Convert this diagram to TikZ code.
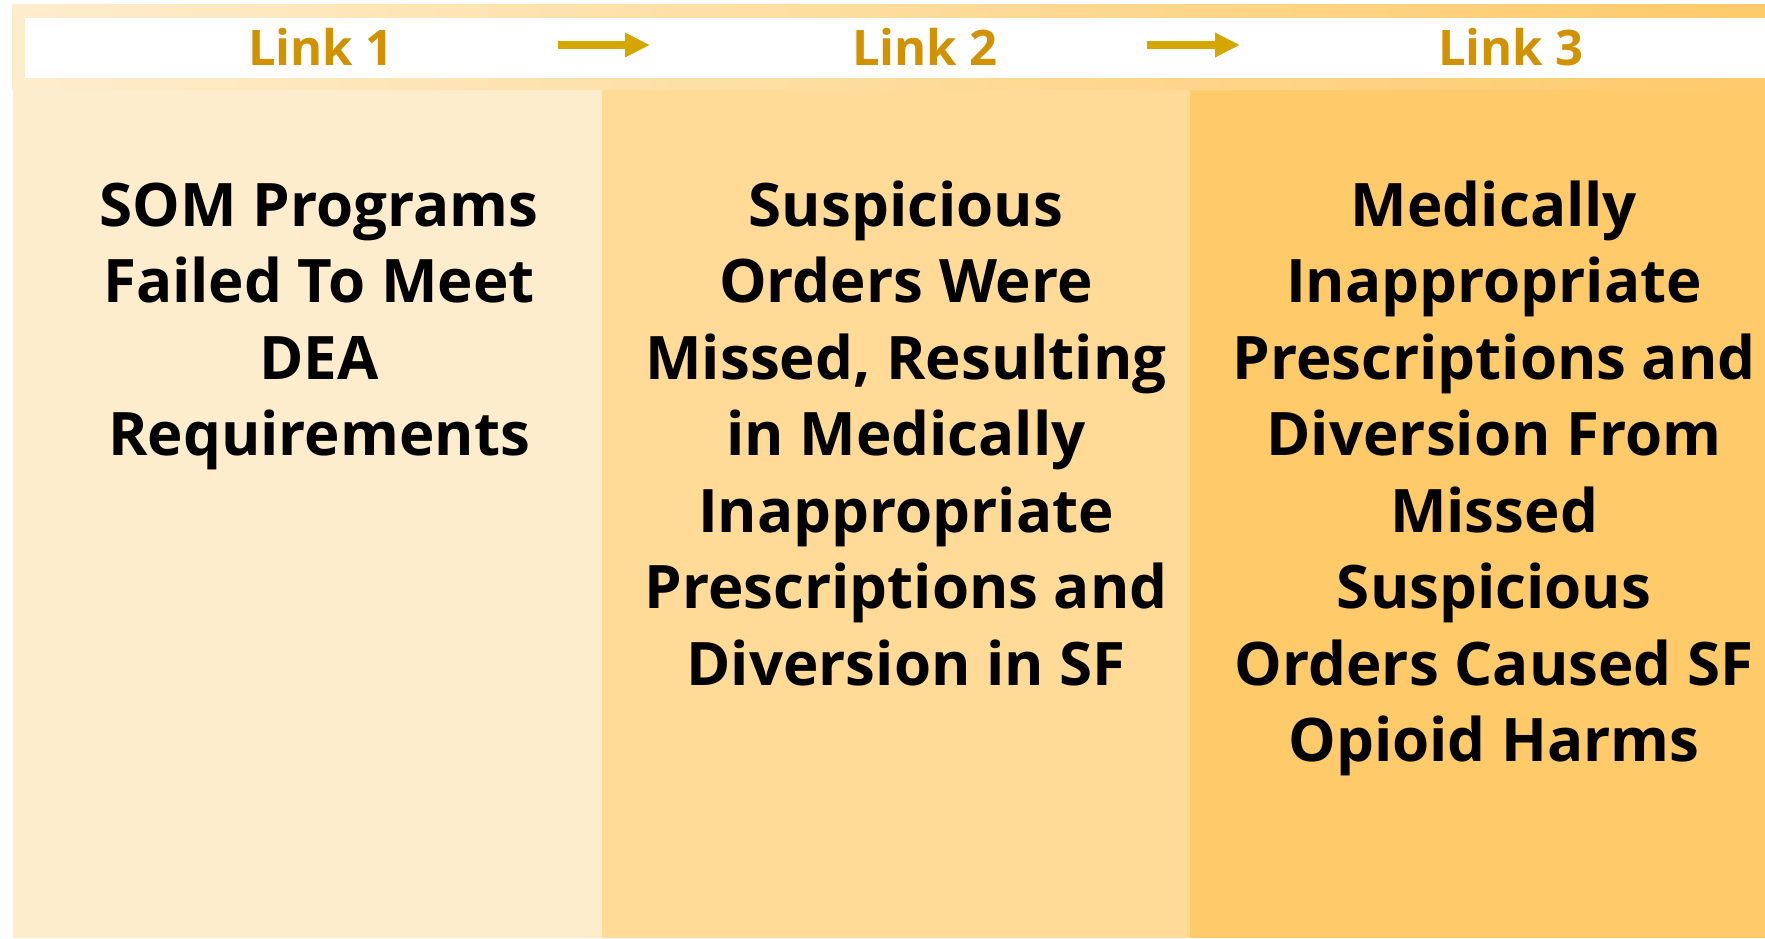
\documentclass[tikz,border=0pt]{standalone}
\usepackage{fontspec}
\setmainfont{Open Sans}
\usetikzlibrary{arrows.meta}
\definecolor{colA}{HTML}{FEEDCC}
\definecolor{colB}{HTML}{FFDB97}
\definecolor{colC}{HTML}{FECA6A}
\definecolor{linktxt}{HTML}{D09200}
\definecolor{arrowc}{HTML}{D6A600}
\tikzset{
  maintext/.style={font=\bfseries\fontsize{30}{38.25}\selectfont, align=center, anchor=base, inner sep=0pt},
  linktext/.style={font=\bfseries\fontsize{24.5}{28}\selectfont, text=linktxt, anchor=base, inner sep=0pt},
  linkarrow/.style={draw=arrowc, line width=3.8pt, -{Triangle[length=12.5pt,width=11.5pt]}}
}
\begin{document}
\begin{tikzpicture}[x=0.5pt,y=-0.5pt]
\useasboundingbox (0,0) rectangle (1765,938);
\fill[white] (0,0) rectangle (1765,938);
% top band
\shade[left color=colA,right color=colC] (12.5,4.5) rectangle (1765,90);
\fill[white] (24.5,17.5) rectangle (1765,78);
% columns
\fill[colA] (12.5,90) rectangle (602,938);
\fill[colB] (602,90) rectangle (1190,938);
\fill[colC] (1190,90) rectangle (1765,938);
% link labels
\node[linktext] (l1) at (321,65.5) {Link 1};
\node[linktext] (l2) at (925,65.5) {Link 2};
\node[linktext] (l3) at (1511,65.5) {Link 3};
\coordinate (a1s) at (558,45);
\coordinate (a1e) at (650,45);
\coordinate (a2s) at (1147,45);
\coordinate (a2e) at (1240,45);
\draw[linkarrow] (a1s) -- (a1e);
\draw[linkarrow] (a2s) -- (a2e);
% column texts (anchor = baseline of the last line)
\node[maintext] (t1) at (319,455.5) {SOM Programs\\Failed To Meet\\DEA\\Requirements};
\node[maintext] (t2) at (906,685) {Suspicious\\Orders Were\\Missed, Resulting\\in Medically\\Inappropriate\\Prescriptions and\\Diversion in SF};
\node[maintext] (t3) at (1494,761.5) {Medically\\Inappropriate\\Prescriptions and\\Diversion From\\Missed\\Suspicious\\Orders Caused SF\\Opioid Harms};
\end{tikzpicture}
\end{document}
